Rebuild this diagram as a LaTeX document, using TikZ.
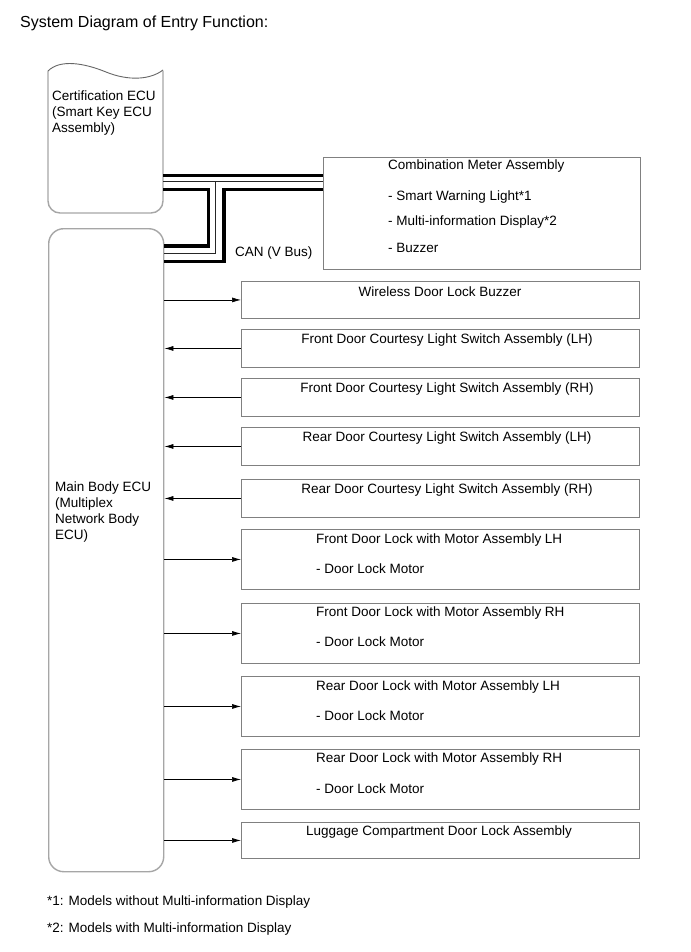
\documentclass[tikz,border=0pt]{standalone}
\usepackage{fontspec}
\setmainfont{Liberation Sans}
\usetikzlibrary{arrows.meta}
\begin{document}
\begin{tikzpicture}[x=1pt,y=-1pt,
  txt/.style={font=\fontsize{13.5}{16}\selectfont, inner sep=0pt, align=left},
  unitbox/.style={draw=black!50, line width=0.9pt, rectangle, minimum width=398pt, inner sep=0pt, anchor=north west},
  ecu/.style={draw=black!35, line width=1.4pt},
  sig/.style={line width=0.7pt, -{Latex[length=9pt,width=5pt]}},
  busA/.style={line width=3.5pt, black},
  busB/.style={line width=0.9pt, black!85},
]
\useasboundingbox (0,0) rectangle (690,952);
\fill[white] (0,0) rectangle (690,952);

% title
\node[txt, font=\fontsize{16}{19}\selectfont, anchor=west] (title) at (20,23) {System Diagram of Entry Function:};

% Certification ECU (wavy top)
\draw[ecu, rounded corners=12pt] (48,71) -- (48,213) -- (163,213) -- (163,71);
\draw[draw=black!60, line width=0.9pt] (48,71) .. controls (60,59) and (84,63) .. (106,72) .. controls (128,81) and (150,80) .. (163,70);
\node[inner sep=0pt, minimum width=115pt, minimum height=142pt, anchor=north west] (cert) at (48,71) {};
\node[txt, anchor=north west] (certt) at (52,91) {Certification ECU\\(Smart Key ECU\\Assembly)};

% Main Body ECU
\node[ecu, rectangle, rounded corners=15pt, inner sep=0pt, minimum width=115pt, minimum height=643pt, anchor=north west] (main) at (48,228) {};
\node[txt, anchor=north west] (maint) at (55,482) {Main Body ECU\\(Multiplex\\Network Body\\ECU)};

% Combination meter
\node[unitbox, minimum width=317pt, minimum height=112pt] (meter) at (323,157) {};
\node[txt, anchor=west] (m1) at (388,166) {Combination Meter Assembly};
\node[txt, anchor=west] (m2) at (388,197) {- Smart Warning Light*1};
\node[txt, anchor=west] (m3) at (388,222) {- Multi-information Display*2};
\node[txt, anchor=west] (m4) at (388,248) {- Buzzer};

% CAN bus
\draw[busA] (cert.east |- 0,175.5) -- (meter.west |- 0,175.5);
\draw[busB] (cert.east |- 0,181.5) -- (meter.west |- 0,181.5);
\draw[busB] (215,181.5) -- (215,253.5) -- (main.east |- 0,253.5);
\draw[busA, line join=miter] (cert.east |- 0,189.5) -- (208.5,189.5) -- (208.5,246) -- (main.east |- 0,246);
\draw[busA, line join=miter] (meter.west |- 0,189.5) -- (224,189.5) -- (224,261.5) -- (main.east |- 0,261.5);
\node[txt, anchor=west] (can) at (235,253) {CAN (V Bus)};

% receiving / sending units
\node[unitbox, minimum height=37pt] (b1) at (241,281) {};
\node[unitbox, minimum height=38pt] (b2) at (241,329) {};
\node[unitbox, minimum height=38pt] (b3) at (241,378) {};
\node[unitbox, minimum height=38pt] (b4) at (241,427) {};
\node[unitbox, minimum height=38pt] (b5) at (241,479) {};
\node[unitbox, minimum height=60pt] (b6) at (241,529) {};
\node[unitbox, minimum height=60pt] (b7) at (241,603) {};
\node[unitbox, minimum height=60pt] (b8) at (241,676) {};
\node[unitbox, minimum height=60pt] (b9) at (241,749) {};
\node[unitbox, minimum height=36pt] (b10) at (241,822) {};

\node[txt] (t1) at (440,292) {Wireless Door Lock Buzzer};
\node[txt] (t2) at (447,340) {Front Door Courtesy Light Switch Assembly (LH)};
\node[txt] (t3) at (447,389) {Front Door Courtesy Light Switch Assembly (RH)};
\node[txt] (t4) at (447,438) {Rear Door Courtesy Light Switch Assembly (LH)};
\node[txt] (t5) at (447,490) {Rear Door Courtesy Light Switch Assembly (RH)};

\node[txt, anchor=west] (t6) at (316,540) {Front Door Lock with Motor Assembly LH};
\node[txt, anchor=west] (t6m) at (316,569) {- Door Lock Motor};
\node[txt, anchor=west] (t7) at (316,613) {Front Door Lock with Motor Assembly RH};
\node[txt, anchor=west] (t7m) at (316,642) {- Door Lock Motor};
\node[txt, anchor=west] (t8) at (316,687) {Rear Door Lock with Motor Assembly LH};
\node[txt, anchor=west] (t8m) at (316,716) {- Door Lock Motor};
\node[txt, anchor=west] (t9) at (316,759) {Rear Door Lock with Motor Assembly RH};
\node[txt, anchor=west] (t9m) at (316,789) {- Door Lock Motor};
\node[txt] (t10) at (439,832) {Luggage Compartment Door Lock Assembly};

% signal arrows
\draw[sig] (main.east |- b1.west) -- (b1.west);
\draw[sig] (b2.west) -- (main.east |- b2.west);
\draw[sig] (b3.west) -- (main.east |- b3.west);
\draw[sig] (b4.west) -- (main.east |- b4.west);
\draw[sig] (b5.west) -- (main.east |- b5.west);
\draw[sig] (main.east |- b6.west) -- (b6.west);
\draw[sig] (main.east |- b7.west) -- (b7.west);
\draw[sig] (main.east |- b8.west) -- (b8.west);
\draw[sig] (main.east |- b9.west) -- (b9.west);
\draw[sig] (main.east |- b10.west) -- (b10.west);

% footnotes
\node[txt, anchor=west] (f1) at (47,902) {*1: Models without Multi-information Display};
\node[txt, anchor=west] (f2) at (47,929) {*2: Models with Multi-information Display};
\end{tikzpicture}
\end{document}
